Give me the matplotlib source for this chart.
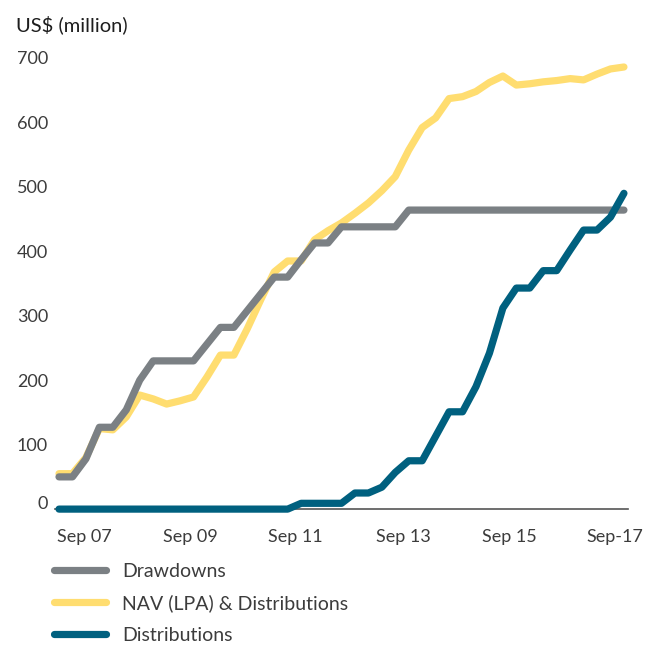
import matplotlib
matplotlib.use('Agg')
import matplotlib.pyplot as plt
import numpy as np

plt.rcParams['font.family'] = ['Lato', 'DejaVu Sans']

# quarterly values, US$ million
drawdowns = [50, 50, 78, 127, 127, 154, 200, 230, 230, 230, 230, 256, 282, 282,
             308, 334, 360, 360, 387, 413, 413, 438, 438, 438, 438, 438,
             464, 464, 464, 464, 464, 464, 464, 464, 464, 464, 464, 464, 464,
             464, 464, 464, 464]
nav = [55, 55, 80, 125, 123, 143, 177, 171, 163, 168, 174, 205, 239, 239,
       280, 325, 368, 385, 385, 418, 432, 444, 459, 475, 494, 516,
       557, 592, 607, 637, 640, 648, 662, 672, 658, 660, 663, 665, 668,
       666, 675, 683, 686]
distributions = [0, 0, 0, 0, 0, 0, 0, 0, 0, 0, 0, 0, 0, 0, 0, 0, 0, 0,
                 9, 9, 9, 9, 25, 25, 34, 57, 75, 75, 113, 151, 151, 190,
                 242, 312, 343, 343, 370, 370, 402, 433, 433, 453, 490]
x_labels = ['Sep 07', 'Sep 09', 'Sep 11', 'Sep 13', 'Sep 15', 'Sep-17']
y_ticks = [0, 100, 200, 300, 400, 500, 600, 700]

x = np.arange(len(drawdowns))
x_label_pos = [1.9, 9.8, 17.6, 25.6, 33.5, 41.3]

col_grey = '#7b8084'
col_yellow = '#ffdd70'
col_blue = '#00607f'
txt = '#3c3c3c'

fig = plt.figure(figsize=(6.46, 6.45), dpi=100)
ax = fig.add_axes([0.0851, 0.1907, 0.887, 0.7194])

lw = 5.2
l_nav, = ax.plot(x, nav, color=col_yellow, lw=lw, solid_capstyle='round',
                 clip_on=False, zorder=3, label='NAV (LPA) & Distributions')
l_dd, = ax.plot(x, drawdowns, color=col_grey, lw=lw, solid_capstyle='round',
                clip_on=False, zorder=4, label='Drawdowns')
l_dist, = ax.plot(x, distributions, color=col_blue, lw=lw, solid_capstyle='round',
                  clip_on=False, zorder=5, label='Distributions')

ax.set_xlim(-0.3, 42.3)
ax.set_ylim(-20, 700)

for s in ['top', 'right', 'left']:
    ax.spines[s].set_visible(False)
ax.spines['bottom'].set_position(('data', 0))
ax.spines['bottom'].set_color('#555555')
ax.spines['bottom'].set_linewidth(1.2)
ax.spines['bottom'].set_zorder(2)

ax.set_xticks(x_label_pos)
ax.set_xticklabels(x_labels)
ax.set_yticks(y_ticks)
ax.set_yticklabels([str(v) for v in y_ticks])
ax.tick_params(axis='x', length=0, pad=14.5, labelsize=13, labelcolor=txt)
ax.tick_params(axis='y', length=0, pad=5, labelsize=13, labelcolor=txt)
ax.get_yticklabels()[0].set_verticalalignment('baseline')

fig.text(16 / 646, 1 - 25 / 645, 'US$ (million)', fontsize=14.5, color='#1e1e1e',
         ha='left', va='center')

fig.legend(handles=[l_dd, l_nav, l_dist], loc='upper left',
           bbox_to_anchor=(54 / 646, 1 - 563 / 645), frameon=False,
           fontsize=14, handlelength=2.68, handletextpad=0.82, labelspacing=0.74,
           borderpad=0, borderaxespad=0, labelcolor=txt)

plt.savefig('out.png', dpi=100)
